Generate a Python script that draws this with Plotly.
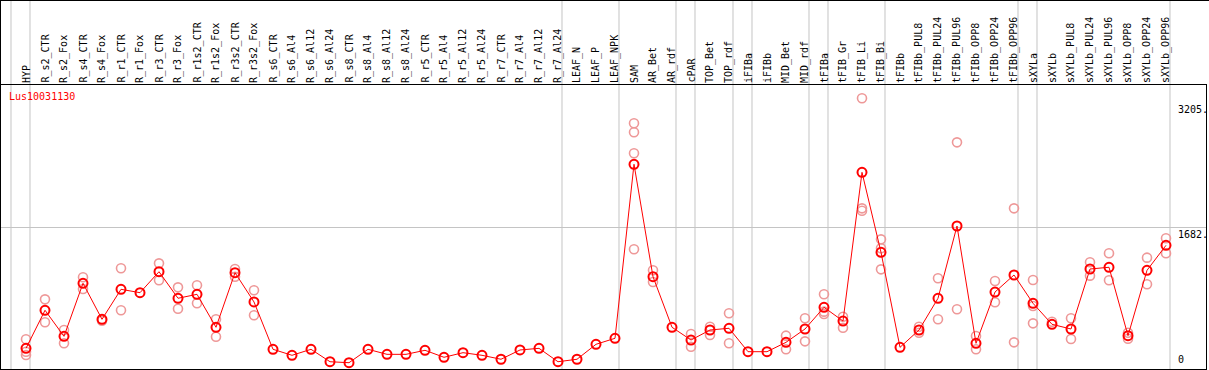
import plotly.graph_objects as go

categories = [
    "HYP", "R_s2_CTR", "R_s2_Fox", "R_s4_CTR", "R_s4_Fox", "R_r1_CTR", "R_r1_Fox",
    "R_r3_CTR", "R_r3_Fox", "R_r1s2_CTR", "R_r1s2_Fox", "R_r3s2_CTR", "R_r3s2_Fox",
    "R_s6_CTR", "R_s6_Al4", "R_s6_Al12", "R_s6_Al24", "R_s8_CTR", "R_s8_Al4",
    "R_s8_Al12", "R_s8_Al24", "R_r5_CTR", "R_r5_Al4", "R_r5_Al12", "R_r5_Al24",
    "R_r7_CTR", "R_r7_Al4", "R_r7_Al12", "R_r7_Al24", "LEAF_N", "LEAF_P", "LEAF_NPK",
    "SAM", "AR_Bet", "AR_rdf", "cPAR", "TOP_Bet", "TOP_rdf", "iFIBa", "iFIBb",
    "MID_Bet", "MID_rdf", "tFIBa", "tFIB_Gr", "tFIB_Li", "tFIB_Bi", "tFIBb",
    "tFIBb_PUL8", "tFIBb_PUL24", "tFIBb_PUL96", "tFIBb_OPP8", "tFIBb_OPP24",
    "tFIBb_OPP96", "sXYLa", "sXYLb", "sXYLb_PUL8", "sXYLb_PUL24", "sXYLb_PUL96",
    "sXYLb_OPP8", "sXYLb_OPP24", "sXYLb_OPP96",
]

means = [
    215, 678, 361, 1006, 568, 933, 892, 1147, 824, 872, 471, 1135, 779,
    203, 130, 203, 52, 40, 203, 142, 142, 191, 106, 162, 130, 82, 195, 215, 52,
    82, 264, 337,
    2454, 1086, 471, 316, 438, 459, 174, 174, 288, 450, 714, 547, 2356, 1383,
    227, 438, 824, 1703, 276, 900, 1107, 763, 507, 450, 1180, 1201, 369, 1164, 1468,
]

rep1 = [
    325, 811, 438, 1079, 551, 1189, None, 1249, 957, 982, 568, 1180, 921,
    None, None, None, None, None, None, None, None, None, None, None, None, None,
    None, None, None, None, None, None,
    2953, 1164, None, 389, 478, 641, None, None, 369, 580, 872, 600, 3257, 1541,
    None, 478, 1067, 2721, 365, 1034, 1918, 1046, 539, 580, 1262, 1371, 405, 1318, 1554,
]
rep2 = [
    174, 532, 276, 937, None, 678, None, 1043, 697, 763, 356, 1086, 617,
    None, None, None, None, None, None, None, None, None, None, None, None, None,
    None, None, None, None, None, None,
    2843, 1022, None, 235, 377, 276, None, None, 203, 300, 633, 466, 1918, 1432,
    None, 405, 568, 690, 203, 775, 288, 730, None, 328, 1099, 1043, 332, 994, 1371,
]
rep3 = [
    134, None, None, None, None, None, None, None, None, None, None, None, None,
    None, None, None, None, None, None, None, None, None, None, None, None, None,
    None, None, None, None, None, None,
    2588, None, None, None, None, None, None, None, None, None, 661, None, 1889, 1176,
    None, None, None, None, None, None, None, 519, None, None, None, None, None, None, None,
]
rep4 = [None] * 32 + [1420] + [None] * 28

gene_name = "Lus10031130"
axis_labels = [3205, 1682, 0]
group_breaks = [-1, 0, 28, 31, 34, 35, 37, 38, 41, 42, 45, 52, 53, 60]

W, H = 1209, 370
ML, MR, MT, MB = 1, 3, 85, 1
PW = W - ML - MR
PH = H - MT - MB
FONT = "DejaVu Sans Mono"
GRAY = "#c4c4c4"

x_range = [-1.316, 62.105]
y_range = [-36.5, 3418.5]

rx, ry = [], []
for rep in (rep1, rep2, rep3, rep4):
    for c, v in zip(categories, rep):
        if v is not None:
            rx.append(c)
            ry.append(v)

fig = go.Figure()
fig.add_trace(go.Scatter(
    x=rx, y=ry, mode="markers",
    marker=dict(symbol="circle-open", size=9, color="#ee9898", line=dict(width=1.6)),
    hoverinfo="skip", showlegend=False,
))
fig.add_trace(go.Scatter(
    x=categories, y=means, mode="lines+markers",
    line=dict(color="#ff0000", width=1),
    marker=dict(symbol="circle-open", size=9, color="#ff0000", line=dict(width=2)),
    showlegend=False,
))

ytop_paper = (H - MB) / PH
shapes = []
for b in group_breaks:
    shapes.append(dict(type="line", xref="x", yref="paper", x0=b + 0.21, x1=b + 0.21,
                       y0=0, y1=ytop_paper, line=dict(color=GRAY, width=1), layer="below"))
shapes.append(dict(type="line", xref="paper", yref="paper", x0=-1 / PW, x1=1 + MR / PW,
                   y0=(H - MB - 0.5) / PH, y1=(H - MB - 0.5) / PH,
                   line=dict(color="black", width=1)))
shapes.append(dict(type="line", xref="paper", yref="paper", x0=-0.5 / PW, x1=-0.5 / PW,
                   y0=1, y1=ytop_paper, line=dict(color="black", width=1)))

annotations = []
for c in categories:
    annotations.append(dict(x=c, xref="x", y=1, yref="paper", text=c, textangle=-90,
                            showarrow=False, xanchor="center", yanchor="bottom", yshift=2,
                            borderpad=0, borderwidth=0,
                            font=dict(family=FONT, size=10, color="black")))
annotations.append(dict(x=(9 - ML) / PW, xref="paper", y=(H - MB - 91) / PH, yref="paper",
                        text=gene_name, showarrow=False, xanchor="left", yanchor="top",
                        borderpad=0, borderwidth=0,
                        font=dict(family=FONT, size=10, color="#ff0000")))
for v in axis_labels:
    txt = f"{v}." if v else "0"
    annotations.append(dict(x=(1178 - ML) / PW, xref="paper", y=v, yref="y", text=txt,
                            showarrow=False, xanchor="left",
                            yanchor="top" if v else "bottom", yshift=-1 if v else 1,
                            borderpad=0, borderwidth=0,
                            font=dict(family=FONT, size=10, color="black")))

fig.update_layout(
    width=W, height=H,
    margin=dict(l=ML, r=MR, t=MT, b=MB, pad=0),
    paper_bgcolor="white", plot_bgcolor="white",
    shapes=shapes, annotations=annotations,
    xaxis=dict(type="category", categoryorder="array", categoryarray=categories,
               range=x_range, showgrid=False, zeroline=False, showticklabels=False,
               ticks="", showline=True, mirror=True, linecolor="black", linewidth=1),
    yaxis=dict(range=y_range, tickvals=[1682], showgrid=True, gridcolor=GRAY, gridwidth=1,
               zeroline=False, showticklabels=False, ticks="", showline=True, mirror=True,
               linecolor="black", linewidth=1),
)

fig.write_html("out.html", config={"displayModeBar": False},
               post_script="document.body.style.margin='0';document.body.style.overflow='hidden';")
